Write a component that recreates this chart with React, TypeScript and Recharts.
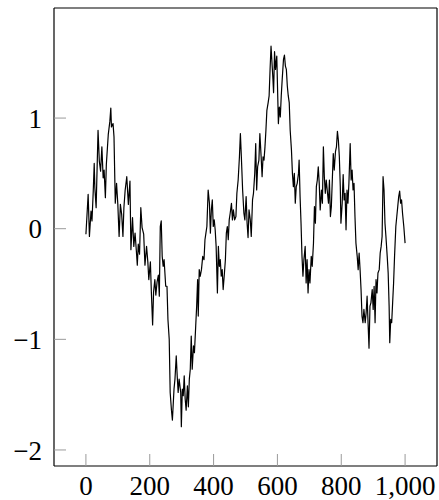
import { Line, LineChart, XAxis, YAxis } from "recharts";

// random walk, sampled along the step axis
const steps = [
  0, 7, 11, 16, 19, 23, 26, 28, 32, 38,
  42, 46, 50, 54, 57, 61, 64, 70, 75, 78,
  80, 85, 88, 92, 96, 100, 104, 108, 112, 116,
  119, 123, 128, 133, 138, 141, 146, 150, 154, 158,
  161, 164, 168, 172, 176, 181, 185, 190, 194, 197,
  202, 205, 209, 212, 216, 219, 223, 227, 230, 233,
  236, 239, 242, 245, 250, 254, 257, 261, 264, 268,
  271, 276, 279, 283, 286, 289, 292, 297, 299, 302,
  305, 308, 311, 314, 318, 321, 324, 327, 330, 333,
  337, 340, 344, 347, 350, 352, 355, 358, 362, 366,
  370, 373, 376, 379, 383, 387, 390, 393, 396, 399,
  402, 405, 408, 412, 415, 418, 421, 424, 427, 430,
  434, 437, 440, 443, 446, 449, 452, 456, 459, 462,
  466, 470, 473, 477, 481, 484, 487, 491, 495, 498,
  502, 505, 508, 511, 515, 518, 522, 525, 529, 532,
  535, 538, 542, 545, 549, 552, 555, 558, 561, 564,
  567, 571, 574, 577, 580, 583, 586, 588, 591, 594,
  598, 601, 603, 606, 609, 612, 615, 619, 622, 625,
  628, 631, 634, 637, 640, 644, 647, 650, 653, 656,
  659, 662, 666, 668, 671, 674, 677, 680, 683, 687,
  690, 693, 696, 699, 702, 706, 709, 713, 716, 719,
  722, 725, 728, 731, 734, 738, 741, 744, 747, 750,
  753, 756, 760, 763, 766, 769, 772, 775, 778, 782,
  785, 788, 791, 794, 797, 799, 803, 806, 809, 812,
  815, 818, 821, 824, 828, 831, 834, 837, 840, 843,
  846, 850, 853, 856, 859, 862, 865, 868, 871, 875,
  878, 881, 884, 887, 890, 893, 897, 900, 903, 906,
  909, 912, 915, 919, 922, 925, 928, 931, 934, 937,
  940, 944, 947, 950, 952, 955, 958, 961, 964, 967,
  971, 974, 977, 980, 983, 986, 989, 992, 996, 1000,
];

const walk = [
  -0.05, 0.31, -0.07, 0.16, 0.07, 0.34, 0.59, 0.37, 0.19, 0.89,
  0.61, 0.52, 0.74, 0.46, 0.53, 0.28, 0.58, 0.85, 0.97, 1.09,
  0.92, 0.95, 0.83, 0.23, 0.41, 0.22, -0.07, 0.22, 0.13, -0.07,
  0.19, 0.35, 0.47, 0.22, 0.43, -0.19, 0.1, -0.16, -0.04, -0.2,
  -0.33, -0.14, -0.23, 0.19, 0.01, -0.05, -0.33, -0.16, -0.3, -0.46,
  -0.3, -0.57, -0.87, -0.57, -0.46, -0.6, -0.48, -0.42, -0.61, 0.02,
  0.07, -0.25, -0.34, -0.28, -0.52, -0.52, -0.82, -1.0, -1.48, -1.64,
  -1.73, -1.45, -1.36, -1.15, -1.33, -1.48, -1.36, -1.48, -1.79, -1.45,
  -1.51, -1.33, -1.54, -1.64, -1.42, -1.61, -1.36, -1.27, -0.97, -1.27,
  -1.06, -1.12, -0.88, -0.7, -0.46, -0.79, -0.37, -0.43, -0.37, -0.25,
  -0.28, -0.1, -0.04, 0.02, 0.35, 0.23, -0.04, 0.17, 0.26, 0.02,
  0.08, -0.01, -0.16, -0.58, -0.16, -0.34, -0.28, -0.43, -0.37, -0.55,
  -0.4, -0.28, -0.04, 0.02, -0.1, 0.08, 0.14, 0.23, 0.08, 0.17,
  0.08, 0.11, 0.32, 0.44, 0.65, 0.86, 0.65, 0.35, 0.14, 0.08,
  0.29, 0.05, -0.08, 0.17, 0.08, -0.07, 0.26, 0.32, 0.5, 0.77,
  0.35, 0.56, 0.62, 0.86, 0.65, 0.47, 0.65, 0.62, 0.74, 0.89,
  1.07, 1.14, 1.2, 1.44, 1.65, 1.5, 1.35, 1.23, 1.6, 1.44,
  1.56, 1.2, 0.95, 1.1, 1.01, 1.2, 1.35, 1.53, 1.57, 1.47,
  1.44, 1.29, 1.2, 1.14, 0.89, 0.71, 0.5, 0.38, 0.5, 0.23,
  0.38, 0.41, 0.5, 0.62, 0.29, 0.05, -0.25, -0.43, -0.28, -0.16,
  -0.49, -0.28, -0.58, -0.37, -0.49, -0.25, -0.34, -0.13, 0.2, 0.05,
  0.38, 0.44, 0.56, 0.41, 0.17, 0.35, 0.23, 0.74, 0.47, 0.32,
  0.44, 0.35, 0.23, 0.44, 0.11, 0.2, 0.44, 0.68, 0.53, 0.7,
  0.74, 0.88, 0.8, 0.65, 0.38, 0.05, 0.23, 0.49, 0.26, 0.32,
  -0.01, 0.35, 0.23, 0.41, 0.77, 0.44, 0.53, 0.35, 0.41, 0.11,
  -0.13, -0.25, -0.37, -0.22, -0.37, -0.55, -0.79, -0.85, -0.73, -0.85,
  -0.76, -0.61, -0.85, -1.08, -0.7, -0.67, -0.55, -0.73, -0.52, -0.85,
  -0.46, -0.58, -0.4, -0.37, -0.22, -0.16, -0.07, 0.47, 0.35, 0.05,
  -0.07, -0.25, -0.4, -0.7, -1.03, -0.82, -0.85, -0.67, -0.49, -0.25,
  0.02, 0.11, 0.2, 0.29, 0.34, 0.23, 0.26, 0.14, 0.02, -0.13,
];

const xTicks = [0, 200, 400, 600, 800, 1000];
const yTicks = [-2, -1, 0, 1];

const data = steps.map((step, i) => ({ step, value: walk[i] }));

const labelFont = {
  fontSize: 27,
  fontFamily: "'Liberation Serif', 'DejaVu Serif', serif",
  fill: "#000",
};

const tickStroke = { stroke: "#9a9a9a", strokeWidth: 1 };
const frame = { stroke: "#000", strokeWidth: 1.2 };

const fmtX = (v: number) => v.toLocaleString("en-US");
const fmtY = (v: number) => (v < 0 ? `\u2212${Math.abs(v)}` : `${v}`);

export default function App() {
  return (
    <div style={{ position: "absolute", left: 0, top: 0 }}>
      <LineChart
        width={439}
        height={500}
        data={data}
        margin={{ top: 0, right: 0, bottom: 0, left: 0 }}
      >
        <XAxis
          dataKey="step"
          type="number"
          domain={[-100, 1100]}
          ticks={xTicks}
          height={34}
          tickSize={-12}
          tickMargin={22}
          tickLine={tickStroke}
          axisLine={frame}
          tick={labelFont}
          tickFormatter={fmtX}
        />
        <XAxis
          xAxisId="top"
          orientation="top"
          dataKey="step"
          type="number"
          domain={[-100, 1100]}
          ticks={xTicks}
          height={8}
          tickSize={-12}
          tickLine={tickStroke}
          axisLine={frame}
          tick={false}
        />
        <YAxis
          type="number"
          domain={[-2.145, 1.995]}
          ticks={yTicks}
          width={54}
          tickSize={-12}
          tickMargin={24}
          tickLine={tickStroke}
          axisLine={frame}
          tick={labelFont}
          tickFormatter={fmtY}
        />
        <YAxis
          yAxisId="right"
          orientation="right"
          type="number"
          domain={[-2.145, 1.995]}
          ticks={yTicks}
          width={2}
          tickSize={-12}
          tickLine={tickStroke}
          axisLine={frame}
          tick={false}
        />
        <Line
          type="linear"
          dataKey="value"
          stroke="#000"
          strokeWidth={1.2}
          strokeLinejoin="round"
          dot={false}
          activeDot={false}
          isAnimationActive={false}
        />
      </LineChart>
    </div>
  );
}
